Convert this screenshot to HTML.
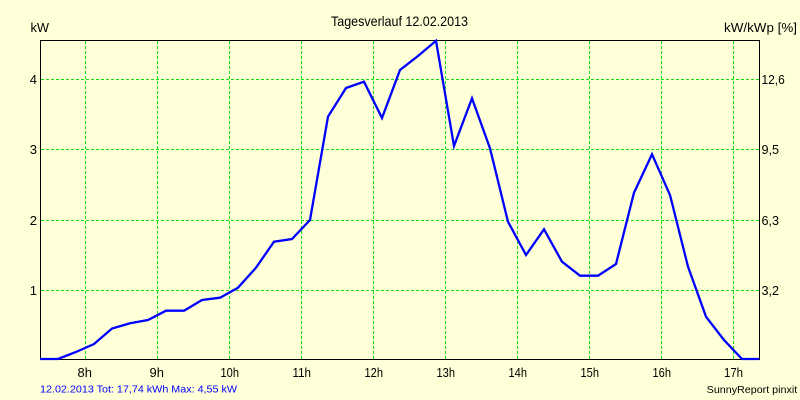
<!DOCTYPE html>
<html>
<head>
<meta charset="utf-8">
<style>
  html, body { margin: 0; padding: 0; background: #ffffd8; }
  svg { display: block; }
  text { font-family: "Liberation Sans", "DejaVu Sans", sans-serif; }
</style>
</head>
<body>
<svg width="800" height="400" viewBox="0 0 800 400" xmlns="http://www.w3.org/2000/svg">
  <rect x="0" y="0" width="800" height="400" fill="#ffffd8"/>

  <!-- grid -->
  <g stroke="#11e011" stroke-width="1" stroke-dasharray="3 2" fill="none" shape-rendering="crispEdges">
    <line x1="85.5" y1="41" x2="85.5" y2="359"/>
    <line x1="157.5" y1="41" x2="157.5" y2="359"/>
    <line x1="229.5" y1="41" x2="229.5" y2="359"/>
    <line x1="301.5" y1="41" x2="301.5" y2="359"/>
    <line x1="373.5" y1="41" x2="373.5" y2="359"/>
    <line x1="445.5" y1="41" x2="445.5" y2="359"/>
    <line x1="517.5" y1="41" x2="517.5" y2="359"/>
    <line x1="589.5" y1="41" x2="589.5" y2="359"/>
    <line x1="661.5" y1="41" x2="661.5" y2="359"/>
    <line x1="733.5" y1="41" x2="733.5" y2="359"/>
    <line x1="41" y1="79.5" x2="759" y2="79.5"/>
    <line x1="41" y1="149.5" x2="759" y2="149.5"/>
    <line x1="41" y1="220.5" x2="759" y2="220.5"/>
    <line x1="41" y1="290.5" x2="759" y2="290.5"/>
  </g>

  <!-- frame -->
  <g stroke="#000" stroke-width="1" fill="none" shape-rendering="crispEdges">
    <line x1="40.5" y1="40" x2="40.5" y2="360"/>
    <line x1="40" y1="40.5" x2="760" y2="40.5"/>
    <line x1="759.5" y1="40" x2="759.5" y2="360"/>
    <line x1="40" y1="359.5" x2="760" y2="359.5"/>
  </g>

  <!-- data -->
  <polyline fill="none" stroke="#0000ff" stroke-width="2.3" stroke-linejoin="miter"
    points="40,359 58,359 76,352 94,344 112,328.5 130,323.3 148,320 166,310.7 184,310.7 202,300 220,297.7 238,287.7 256,267.7 274,241.7 292,239 310,220 328,116.7 346,88 364,81.7 382,118 400,70 418,56 436,40.8 454,146 472,98.3 490,148.3 508,221.7 526,255 544,229.3 562,261.7 580,275.7 598,275.7 616,264 634,192.7 652,154.3 670,195 688,266.7 706,316.7 724,340 742,359 759,359"/>

  <!-- titles -->
  <text x="331" y="26" font-size="14" textLength="137" lengthAdjust="spacingAndGlyphs" fill="#000">Tagesverlauf 12.02.2013</text>
  <text x="30.5" y="32" font-size="13" textLength="18.6" lengthAdjust="spacingAndGlyphs" fill="#000">kW</text>
  <text x="724" y="32" font-size="13" textLength="73" lengthAdjust="spacingAndGlyphs" fill="#000">kW/kWp [%]</text>

  <!-- left tick labels -->
  <g font-size="13" fill="#000" text-anchor="end">
    <text x="37" y="84">4</text>
    <text x="37" y="154">3</text>
    <text x="37" y="225">2</text>
    <text x="37" y="295">1</text>
  </g>

  <!-- right tick labels -->
  <g font-size="13" fill="#000">
    <text x="761.5" y="84" textLength="23.3" lengthAdjust="spacingAndGlyphs">12,6</text>
    <text x="761.5" y="154" textLength="17.6" lengthAdjust="spacingAndGlyphs">9,5</text>
    <text x="761.5" y="225" textLength="17.6" lengthAdjust="spacingAndGlyphs">6,3</text>
    <text x="761.5" y="295" textLength="17.6" lengthAdjust="spacingAndGlyphs">3,2</text>
  </g>

  <!-- hour labels -->
  <g font-size="13" fill="#000">
    <text x="77.5" y="377" textLength="14.4" lengthAdjust="spacingAndGlyphs">8h</text>
    <text x="149.5" y="377" textLength="14.4" lengthAdjust="spacingAndGlyphs">9h</text>
    <text x="220.5" y="377" textLength="18.5" lengthAdjust="spacingAndGlyphs">10h</text>
    <text x="292.5" y="377" textLength="18.5" lengthAdjust="spacingAndGlyphs">11h</text>
    <text x="364.5" y="377" textLength="18.5" lengthAdjust="spacingAndGlyphs">12h</text>
    <text x="436.5" y="377" textLength="18.5" lengthAdjust="spacingAndGlyphs">13h</text>
    <text x="508.5" y="377" textLength="18.5" lengthAdjust="spacingAndGlyphs">14h</text>
    <text x="580.5" y="377" textLength="18.5" lengthAdjust="spacingAndGlyphs">15h</text>
    <text x="652.5" y="377" textLength="18.5" lengthAdjust="spacingAndGlyphs">16h</text>
    <text x="724" y="377" textLength="19" lengthAdjust="spacingAndGlyphs">17h</text>
  </g>

  <!-- footer -->
  <text x="40" y="392.5" font-size="10.5" textLength="197" lengthAdjust="spacingAndGlyphs" fill="#0000ff">12.02.2013 Tot: 17,74 kWh Max: 4,55 kW</text>
  <text x="706.7" y="393" font-size="10" textLength="90.5" lengthAdjust="spacingAndGlyphs" fill="#000">SunnyReport pinxit</text>
</svg>
</body>
</html>
